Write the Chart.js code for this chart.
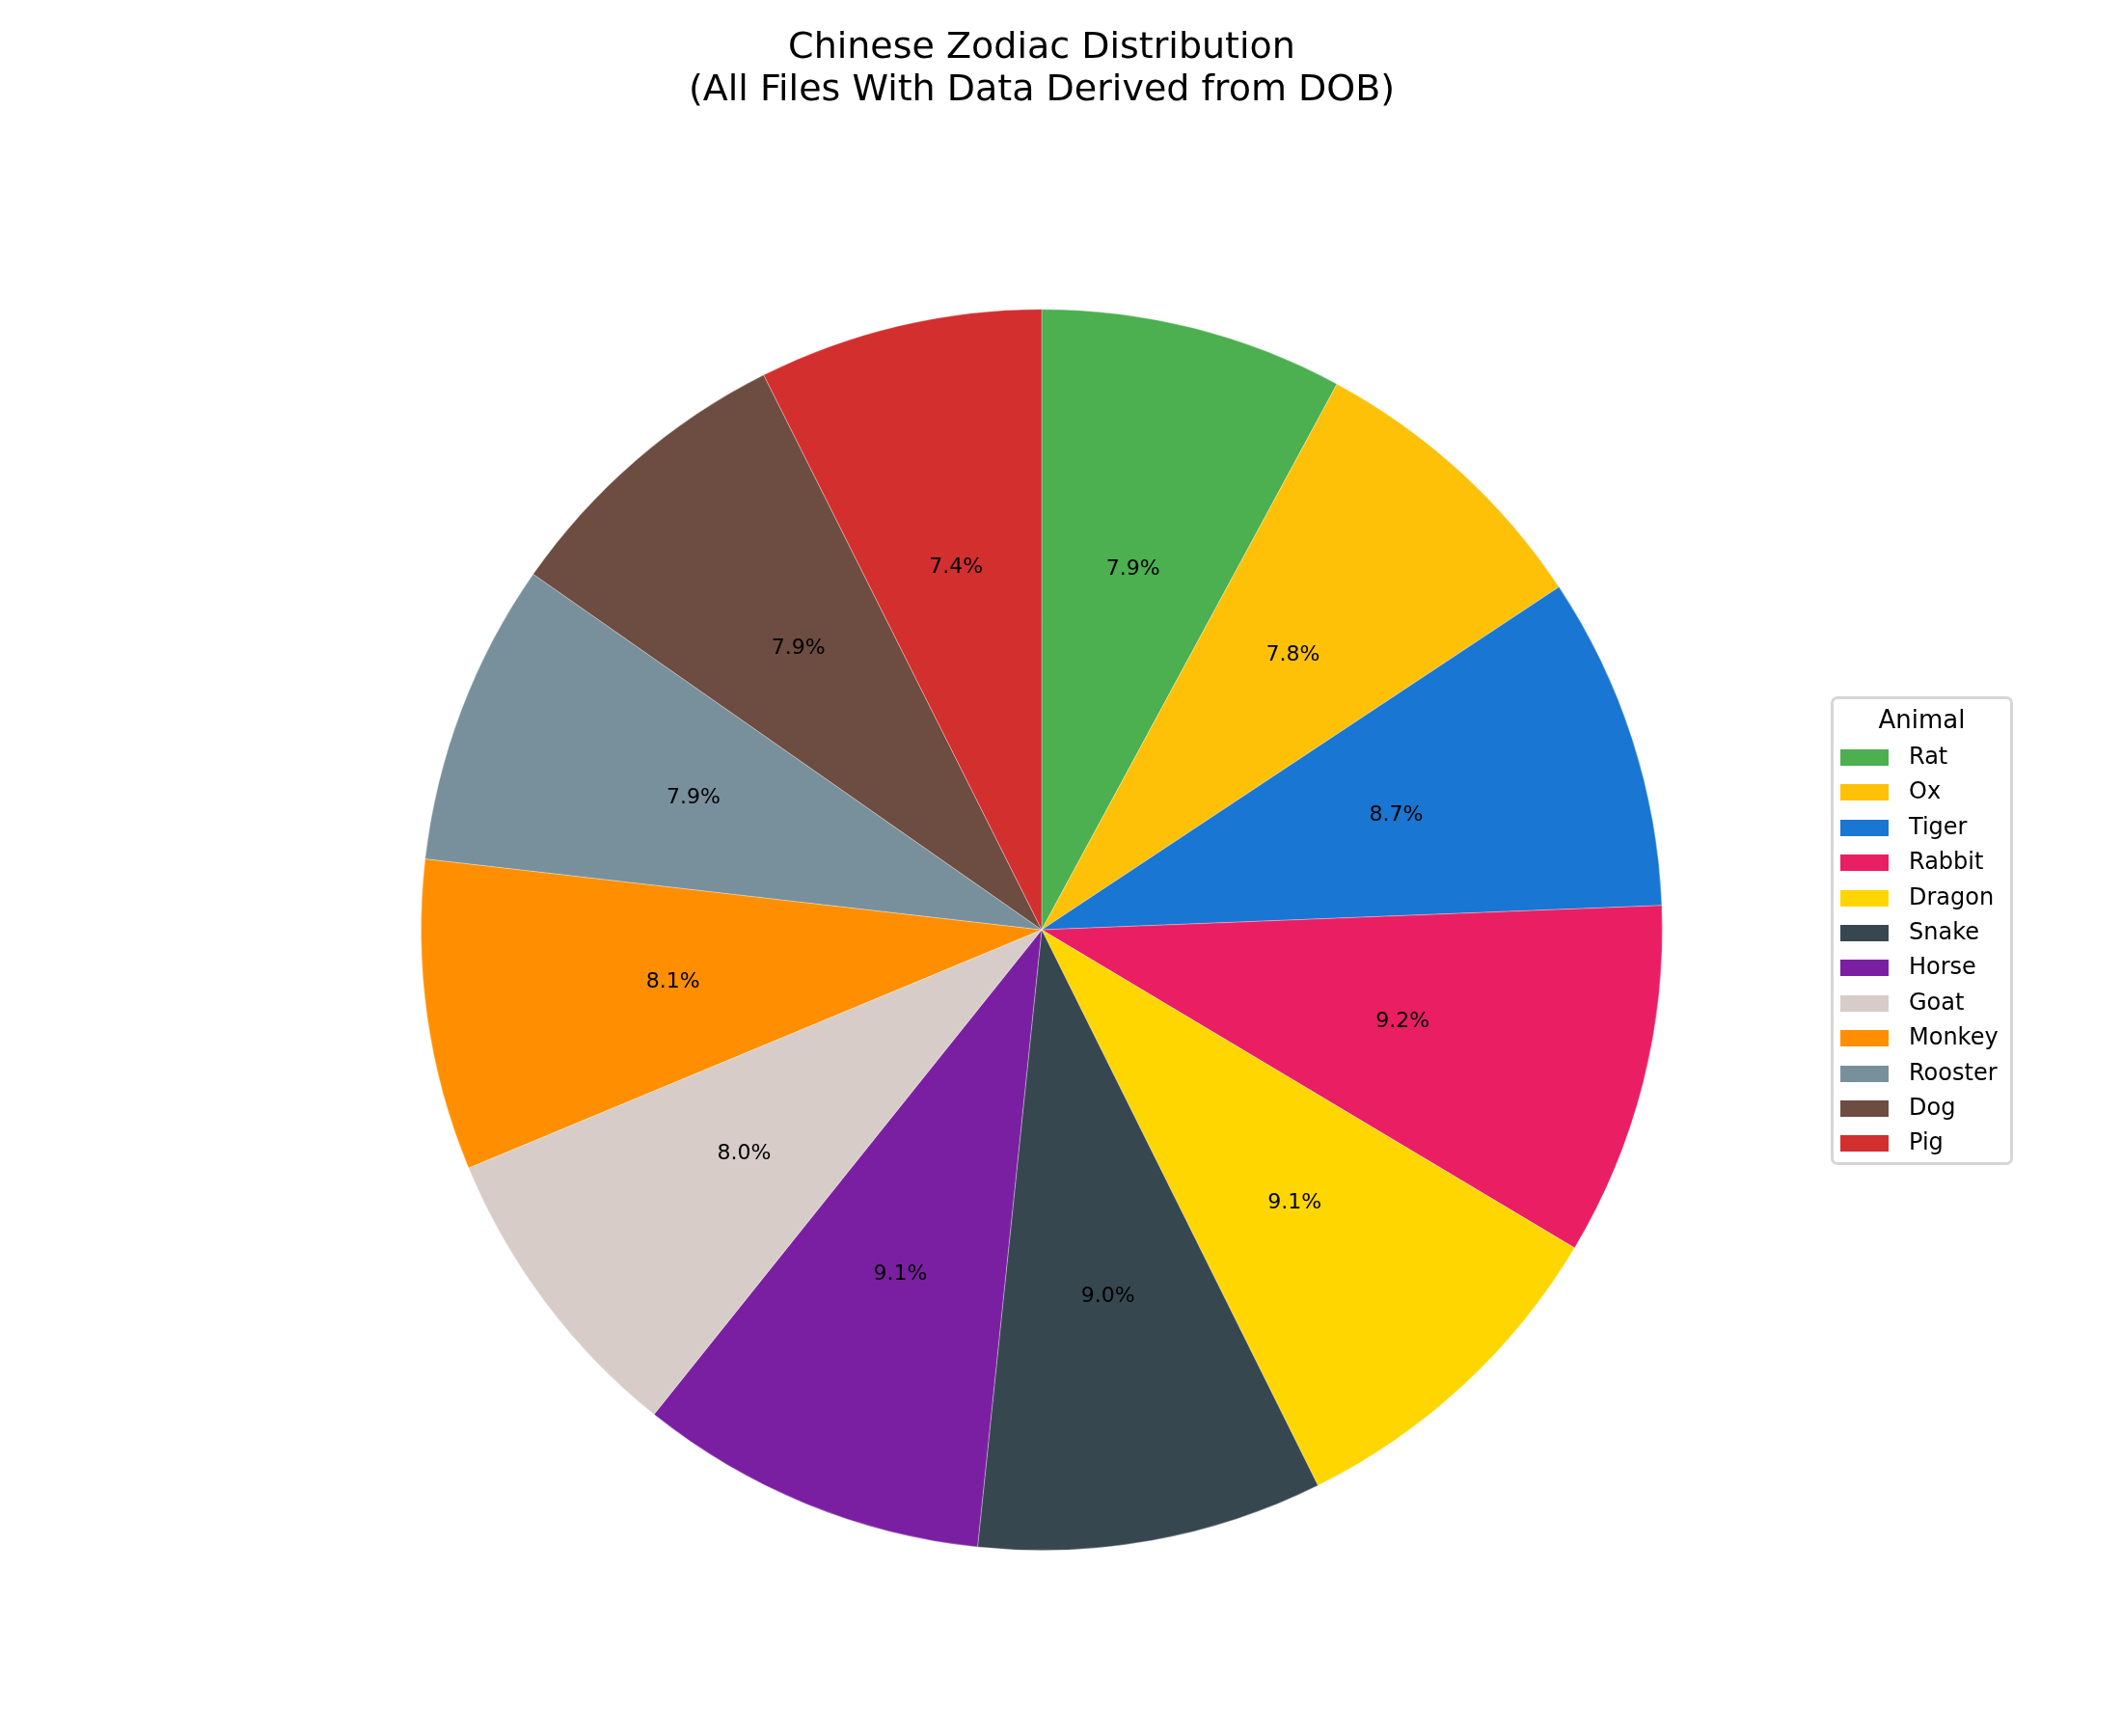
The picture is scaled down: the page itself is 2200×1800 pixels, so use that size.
<!DOCTYPE html>
<html>
<head>
<meta charset="utf-8">
<script src="https://cdn.jsdelivr.net/npm/chart.js@4.4.1/dist/chart.umd.min.js"></script>
<style>
  html, body { margin: 0; padding: 0; background: #fff; }
  #wrap { position: relative; width: 2200px; height: 1800px; }
  #legend {
    position: absolute; left: 1898px; top: 722px; width: 183px; height: 480px;
    border: 3px solid #d6d6d6; border-radius: 7px; background: #fff;
    font-family: "DejaVu Sans", sans-serif; color: #000;
  }
  #legend .ttl { position: absolute; left: 0; width: 100%; top: 6px; text-align: center; font-size: 26px; }
  #legend .row { position: absolute; left: 7px; height: 36px; }
  #legend .sw { position: absolute; left: 0; top: 10px; width: 50px; height: 17px; }
  #legend .lb { position: absolute; left: 71px; top: 3px; font-size: 24px; white-space: nowrap; }
</style>
</head>
<body>
<div id="wrap">
  <canvas id="zodiac" width="2200" height="1800"></canvas>
  <div id="legend"><div class="ttl">Animal</div></div>
</div>
<script>
const animals = ['Rat','Ox','Tiger','Rabbit','Dragon','Snake','Horse','Goat','Monkey','Rooster','Dog','Pig']
const shares = [7.9, 7.8, 8.7, 9.2, 9.1, 9.0, 9.1, 8.0, 8.1, 7.9, 7.9, 7.4]
const colors = ['#4CAF50','#FFC107','#1976D2','#E91E63','#FFD600','#37474F',
                '#7B1FA2','#D7CCC8','#FF8F00','#78909C','#6D4C41','#D32F2F']

// percent labels at 0.6 of the radius, like matplotlib's pctdistance
const pctLabels = {
  id: 'pctLabels',
  afterDatasetsDraw(chart) {
    const ctx = chart.ctx
    const meta = chart.getDatasetMeta(0)
    ctx.save()
    ctx.font = '22px "DejaVu Sans"'
    ctx.fillStyle = '#000'
    ctx.textAlign = 'center'
    ctx.textBaseline = 'middle'
    meta.data.forEach((arc, i) => {
      const p = arc.getProps(['x','y','startAngle','endAngle','outerRadius'], true)
      const mid = (p.startAngle + p.endAngle) / 2
      const r = p.outerRadius * 0.6
      ctx.fillText(shares[i].toFixed(1) + '%', p.x + Math.cos(mid) * r, p.y + Math.sin(mid) * r)
    })
    ctx.restore()
  }
}

const zctx = document.getElementById('zodiac').getContext('2d')
new Chart(zctx, {
  type: 'pie',
  data: {
    labels: animals,
    datasets: [{
      data: shares,
      backgroundColor: colors,
      borderColor: 'rgba(255,255,255,0.3)',
      borderWidth: 1
    }]
  },
  options: {
    responsive: false,
    animation: false,
    devicePixelRatio: 1,
    layout: { padding: { left: 0, right: 40, top: 0, bottom: 192 } },
    plugins: {
      legend: { display: false },
      tooltip: { enabled: false },
      title: {
        display: true,
        text: ['Chinese Zodiac Distribution', '(All Files With Data Derived from DOB)'],
        color: '#000',
        font: { family: 'DejaVu Sans', size: 38, weight: 'normal', lineHeight: 1.16 },
        padding: { top: 28, bottom: 204 }
      }
    }
  },
  plugins: [pctLabels]
})

const legend = document.getElementById('legend')
animals.forEach((name, i) => {
  const row = document.createElement('div')
  row.className = 'row'
  row.style.top = (42 + i * 36.4) + 'px'
  row.innerHTML = '<div class="sw" style="background:' + colors[i] + '"></div><div class="lb">' + name + '</div>'
  legend.appendChild(row)
})
</script>
</body>
</html>
